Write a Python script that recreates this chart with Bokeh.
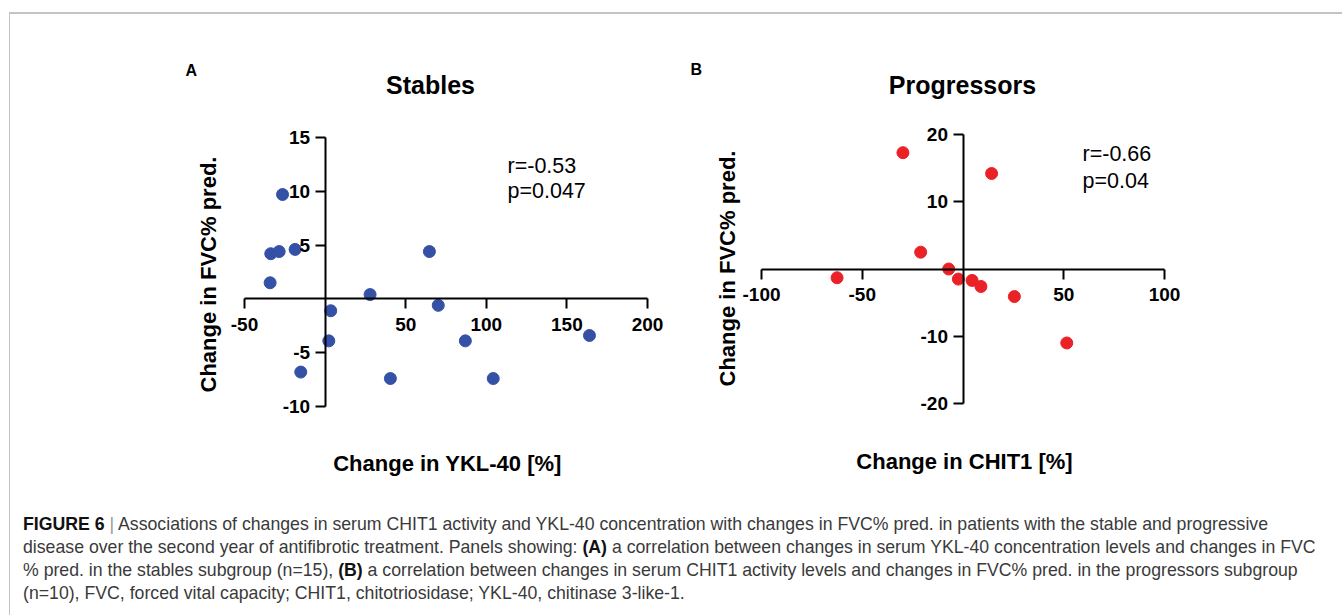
from bokeh.plotting import figure
from bokeh.models import LinearAxis, FixedTicker, Range1d, Label, Div, CustomJSTickFormatter
from bokeh.layouts import column, row
from bokeh.embed import file_html
from bokeh.resources import INLINE

# ---------------- data ----------------
# Panel A: Stables (n=15)
stables_ykl40_change = [-26.4, -33.7, -28.5, -18.6, -34.1, 64.7, 27.9, 70.2,
                        3.5, 2.3, 87.0, 164.0, -15.1, 40.5, 104.3]
stables_fvc_change = [9.7, 4.2, 4.4, 4.6, 1.5, 4.4, 0.4, -0.6,
                      -1.1, -3.9, -3.9, -3.4, -6.8, -7.4, -7.4]
# Panel B: Progressors (n=10)
progressors_chit1_change = [-29.8, 14.2, -21.0, -7.1, -62.5, -2.3, 4.5, 8.9, 25.5, 51.5]
progressors_fvc_change = [17.3, 14.2, 2.5, 0.0, -1.3, -1.5, -1.7, -2.6, -4.1, -11.0]

a_xticks = [-50, 50, 100, 150, 200]
a_yticks = [-10, -5, 5, 10, 15]
b_xticks = [-100, -50, 50, 100]
b_yticks = [-20, -10, 10, 20]
a_xlim = (-50, 200)
a_ylim = (-10, 15)
b_xlim = (-100, 100)
b_ylim = (-20, 20)

stats_a = ["r=-0.53", "p=0.047"]
stats_b = ["r=-0.66", "p=0.04"]

FONT = "Liberation Sans"
FIG_H = 470


class Panel:
    """Figure whose frame fills the whole canvas; axes cross at zero."""

    def __init__(self, fig_x0, fig_y0, width, xlim, px_lim, ylim, py_lim, xticks, yticks):
        self.x0, self.y0 = fig_x0, fig_y0
        self.sx = (px_lim[1] - px_lim[0]) / (xlim[1] - xlim[0])
        self.sy = (py_lim[0] - py_lim[1]) / (ylim[1] - ylim[0])
        xs = xlim[0] - (px_lim[0] - fig_x0) / self.sx
        xe = xs + width / self.sx
        ye = ylim[1] + (py_lim[1] - fig_y0) / self.sy
        ys = ye - FIG_H / self.sy
        self.xs, self.ye = xs, ye
        p = figure(width=width, height=FIG_H, x_range=Range1d(xs, xe), y_range=Range1d(ys, ye),
                   output_backend="svg", toolbar_location=None,
                   x_axis_location=None, y_axis_location=None,
                   min_border_left=0, min_border_right=0,
                   min_border_top=0, min_border_bottom=0)
        p.xgrid.grid_line_color = None
        p.ygrid.grid_line_color = None
        p.outline_line_color = None
        p.background_fill_color = "white"
        p.border_fill_color = "white"
        for loc, ticks, lim in (("below", xticks, xlim), ("left", yticks, ylim)):
            ax = LinearAxis(fixed_location=0, ticker=FixedTicker(ticks=ticks), bounds=lim,
                            formatter=CustomJSTickFormatter(code="return tick.toString();"))
            ax.axis_line_width = 2
            ax.axis_line_color = "black"
            ax.major_tick_line_width = 2
            ax.major_tick_line_color = "black"
            ax.major_tick_out = 10
            ax.major_tick_in = 0
            ax.minor_tick_out = 0
            ax.minor_tick_in = 0
            ax.major_label_text_font = FONT
            ax.major_label_text_font_style = "bold"
            ax.major_label_text_font_size = "19px"
            ax.major_label_text_color = "black"
            ax.major_label_standoff = 9 if loc == "below" else 5
            p.add_layout(ax, loc)
        self.p = p

    def text(self, px, py, text, size, bold=False, align="left", angle=0.0):
        x = self.xs + (px - self.x0) / self.sx
        y = self.ye - (py - self.y0) / self.sy
        self.p.add_layout(Label(x=x, y=y, text=text, text_font=FONT, text_font_size=size,
                                text_font_style="bold" if bold else "normal",
                                text_align=align, text_baseline="middle", angle=angle,
                                text_color="black"))


# ---------------- Panel A ----------------
A = Panel(10, 14, 660, a_xlim, (244, 647), a_ylim, (406, 137), a_xticks, a_yticks)
A.p.scatter(stables_ykl40_change, stables_fvc_change, size=12,
            fill_color="#3551a6", line_color="#3551a6")
A.text(185, 70, "A", "16px", bold=True)
A.text(430, 84, "Stables", "25px", bold=True, align="center")
A.text(208, 274, "Change in FVC% pred.", "22px", bold=True, align="center", angle=1.5708)
A.text(447, 463, "Change in YKL-40 [%]", "22px", bold=True, align="center")
A.text(507, 165, stats_a[0], "21.5px")
A.text(507, 190, stats_a[1], "21.5px")

# ---------------- Panel B ----------------
B = Panel(670, 14, 672, b_xlim, (761, 1164), b_ylim, (403, 134), b_xticks, b_yticks)
B.p.scatter(progressors_chit1_change, progressors_fvc_change, size=12,
            fill_color="#ea2127", line_color="#ea2127")
B.text(690, 69, "B", "16px", bold=True)
B.text(962, 84, "Progressors", "25px", bold=True, align="center")
B.text(727, 268, "Change in FVC% pred.", "22px", bold=True, align="center", angle=1.5708)
B.text(964, 461, "Change in CHIT1 [%]", "22px", bold=True, align="center")
B.text(1082, 153, stats_b[0], "21.5px")
B.text(1082, 180, stats_b[1], "21.5px")

# ---------------- caption ----------------
caption_lines = [
    '<b style="color:#111">FIGURE 6</b> <span style="color:#999">|</span> Associations of changes in serum CHIT1 activity and YKL-40 concentration with changes in FVC% pred. in patients with the stable and progressive',
    'disease over the second year of antifibrotic treatment. Panels showing: <b style="color:#111">(A)</b> a correlation between changes in serum YKL-40 concentration levels and changes in FVC',
    '% pred. in the stables subgroup (n=15), <b style="color:#111">(B)</b> a correlation between changes in serum CHIT1 activity levels and changes in FVC% pred. in the progressors subgroup',
    '(n=10), FVC, forced vital capacity; CHIT1, chitotriosidase; YKL-40, chitinase 3-like-1.',
]
caption_html = ('<div style="padding:29px 0 0 13px; font-family:\'Liberation Sans\', sans-serif; '
                'font-size:17.7px; line-height:23px; color:#3a3a3a; '
                'white-space:nowrap;">' + "<br>".join(caption_lines) + "</div>")
caption = Div(text=caption_html, width=1332, height=131, margin=0)

line_col = "#c4c4c4"
top_space = Div(text="", width=1342, height=12, margin=0)
left_space = Div(text="", width=9, height=603, margin=0)
left_line = Div(text="", width=1, height=603, margin=0, styles={"background-color": line_col})
top_line = Div(text="", width=1332, height=2, margin=0, styles={"background-color": line_col})

inner = column(top_line, row(A.p, B.p, spacing=0), caption, spacing=0)
layout = column(top_space, row(left_space, left_line, inner, spacing=0), spacing=0)

open("out.html", "w").write(file_html(layout, INLINE))
